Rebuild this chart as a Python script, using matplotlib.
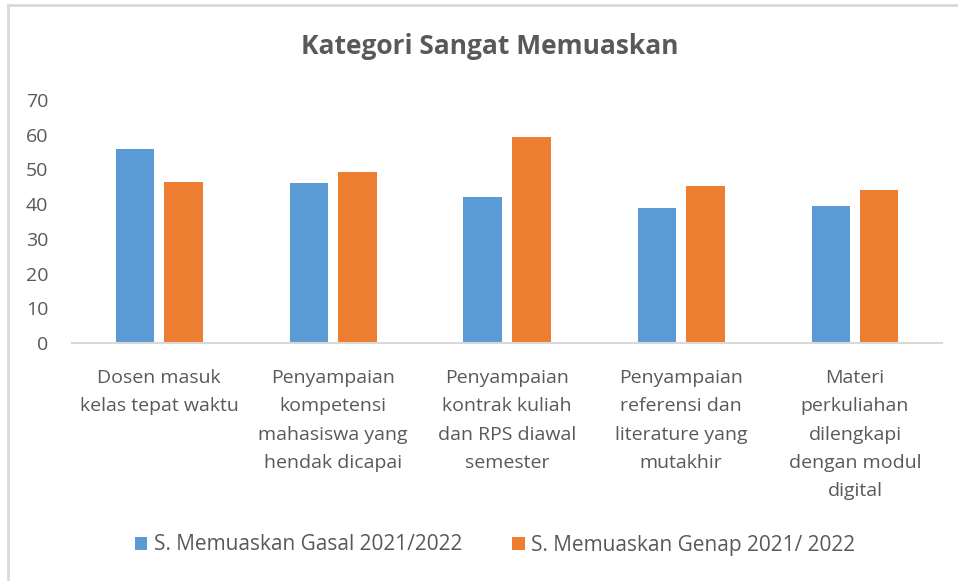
import numpy as np
import matplotlib
matplotlib.use("Agg")
import matplotlib.pyplot as plt
from matplotlib.patches import Rectangle

categories = ["Dosen masuk\nkelas tepat waktu",
              "Penyampaian\nkompetensi\nmahasiswa yang\nhendak dicapai",
              "Penyampaian\nkontrak kuliah\ndan RPS diawal\nsemester",
              "Penyampaian\nreferensi dan\nliterature yang\nmutakhir",
              "Materi\nperkuliahan\ndilengkapi\ndengan modul\ndigital"]
gasal = [56.0, 46.2, 42.1, 38.9, 39.6]
genap = [46.3, 49.3, 59.2, 45.1, 44.1]
labels = ["S. Memuaskan Gasal 2021/2022", "S. Memuaskan Genap 2021/ 2022"]

blue = "#5B9BD5"
orange = "#ED7D31"
txt = "#595959"

plt.rcParams['font.family'] = ['Open Sans', 'DejaVu Sans']

fig = plt.figure(figsize=(9.58, 5.81), dpi=100)
fig.patches.append(Rectangle((8/958, -0.1), 1.2, 1 - 5/581 + 0.1, transform=fig.transFigure,
                             fill=False, edgecolor="#D9D9D9", linewidth=2))

ax = fig.add_axes([72/958, 1 - 343/581, 870/958, 243/581])
x = np.arange(len(categories))
w = 0.22
ax.bar(x - 0.14, gasal, w, color=blue, label=labels[0])
ax.bar(x + 0.14, genap, w, color=orange, label=labels[1])

ax.set_xlim(-0.5, len(categories) - 0.5)
ax.set_ylim(0, 70)
ax.set_yticks(range(0, 71, 10))
ax.set_xticks(x)
ax.set_xticklabels(categories, linespacing=1.72)
ax.tick_params(axis='both', length=0, colors=txt, labelsize=14)
ax.tick_params(axis='x', pad=19)
ax.tick_params(axis='y', pad=17)
for s in ["top", "left", "right"]:
    ax.spines[s].set_visible(False)
ax.spines["bottom"].set_color("#D9D9D9")
ax.spines["bottom"].set_linewidth(1.5)

fig.text(490/958, 1 - 47/581, "Kategori Sangat Memuaskan", ha="center", va="center",
         fontsize=19, fontweight="bold", color=txt)

fig.legend(loc="center", bbox_to_anchor=(495/958, 1 - 545/581), ncol=2, frameon=False,
           fontsize=15, labelcolor=txt, handlelength=0.6, handleheight=0.6,
           handletextpad=0.3, columnspacing=2.4)

fig.savefig("out.png", dpi=100)
